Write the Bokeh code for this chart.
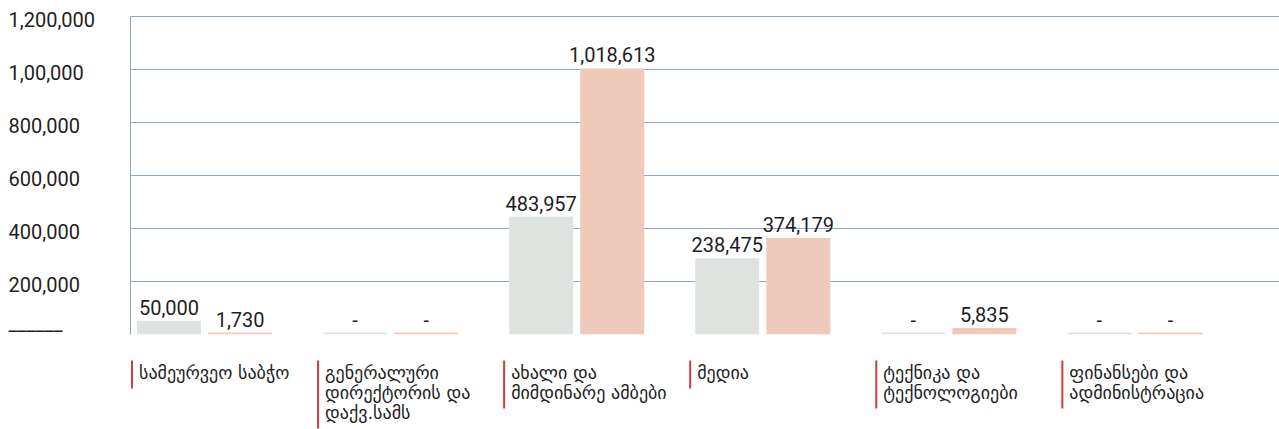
from bokeh.plotting import figure
from bokeh.layouts import column, row
from bokeh.models import Range1d, FixedTicker, ColumnDataSource
from bokeh.transform import dodge
from bokeh.core.properties import value
from bokeh.embed import file_html
from bokeh.resources import INLINE

# ---- data ----
categories = [
    "სამეურვეო საბჭო",
    "გენერალური\nდირექტორის და\nდაქვ.სამს",
    "ახალი და\nმიმდინარე ამბები",
    "მედია",
    "ტექნიკა და\nტექნოლოგიები",
    "ფინანსები და\nადმინისტრაცია",
]
series_a_labels = ["50,000", "-", "483,957", "238,475", "-", "-"]
series_b_labels = ["1,730", "-", "1,018,613", "374,179", "5,835", "-"]
# bar heights as drawn in the picture
series_a_bars = [52000, 7500, 445000, 288000, 7500, 7500]
series_b_bars = [7500, 7500, 1004000, 364000, 25000, 7500]
tick_values = [0, 200000, 400000, 600000, 800000, 1000000, 1200000]
tick_labels = ["______", "200,000", "400,000", "600,000", "800,000", "1,00,000", "1,200,000"]

GRID = "#8fa5d5"
GREY = "#dfe3e0"
PEACH = "#efc9b9"
RED = "#d23a41"
TXT = "#1e1e1e"
NUM_FONT = "Roboto"
GEO_FONT = "DejaVu Sans"

# ---- layout constants ----
W, H_MAIN, H_CAT = 1279, 336, 93
LEFT = 130
BOT_B = 2
FRAME_H = H_MAIN - BOT_B          # frame spans 0..334
Y_MAX = tick_values[-1]
PX_TOP = 16                       # pixels above the top gridline
k = Y_MAX / (FRAME_H - PX_TOP)    # value per pixel
y_range = Range1d(0, Y_MAX + PX_TOP * k)

idx = list(range(len(categories)))
src = ColumnDataSource(dict(
    idx=idx,
    a_bar=series_a_bars, b_bar=series_b_bars,
    a_label=series_a_labels, b_label=series_b_labels,
))

AXW = 10
p = figure(width=W - LEFT + AXW, height=H_MAIN,
           x_range=Range1d(-0.398, 5.777), y_range=y_range,
           output_backend="svg", toolbar_location=None,
           x_axis_location=None,
           min_border_left=AXW, min_border_right=0,
           min_border_top=0, min_border_bottom=BOT_B)
p.outline_line_color = None
p.xgrid.visible = False
p.ygrid.ticker = FixedTicker(ticks=tick_values)
p.ygrid.grid_line_color = GRID
p.ygrid.grid_line_width = 1
p.yaxis.ticker = FixedTicker(ticks=[])
p.yaxis.bounds = (0, Y_MAX)
p.yaxis.axis_line_color = GRID
p.yaxis.major_tick_out = 0
p.yaxis.major_tick_in = 0
p.yaxis.minor_tick_out = 0
p.yaxis.minor_tick_in = 0
p.yaxis.major_label_standoff = 0

p.vbar(x=dodge("idx", -0.191, range=p.x_range), top="a_bar", width=0.344,
       source=src, fill_color=GREY, line_color=None)
p.vbar(x=dodge("idx", 0.191, range=p.x_range), top="b_bar", width=0.344,
       source=src, fill_color=PEACH, line_color=None)

p.text(x=dodge("idx", -0.191, range=p.x_range), y="a_bar", text="a_label", source=src,
       text_align="center", text_baseline="bottom", y_offset=-6,
       text_font=value(NUM_FONT), text_font_size="20px", text_color=TXT)
p.text(x=dodge("idx", 0.191, range=p.x_range), y="b_bar", text="b_label", source=src,
       text_align="center", text_baseline="bottom", y_offset=-6,
       text_font=value(NUM_FONT), text_font_size="20px", text_color=TXT)

# ---- y tick labels (left-aligned) in a narrow figure sharing the value scale ----
pl = figure(width=LEFT - AXW, height=H_MAIN,
            x_range=Range1d(0, LEFT - AXW), y_range=y_range,
            output_backend="svg", toolbar_location=None,
            x_axis_location=None, y_axis_location=None,
            min_border_left=0, min_border_right=0,
            min_border_top=0, min_border_bottom=BOT_B)
pl.outline_line_color = None
pl.grid.visible = False
tick_src = ColumnDataSource(dict(
    x=[8] * (len(tick_values) - 1), y=tick_values[1:], text=tick_labels[1:]))
pl.text(x="x", y="y", text="text", source=tick_src,
        text_align="left", text_baseline="middle", y_offset=3,
        text_font=value(NUM_FONT), text_font_size="20px", text_color=TXT)
zero_src = ColumnDataSource(dict(x=[8], y=tick_values[:1], text=tick_labels[:1]))
pl.text(x="x", y="y", text="text", source=zero_src,
        text_align="left", text_baseline="bottom", y_offset=0,
        text_font=value(NUM_FONT), text_font_size="20px", text_color=TXT)

# ---- category labels strip ----
p2 = figure(width=W, height=H_CAT, x_range=p.x_range, y_range=Range1d(-H_CAT, 0),
            output_backend="svg", toolbar_location=None,
            x_axis_location=None, y_axis_location=None,
            min_border_left=LEFT, min_border_right=0,
            min_border_top=0, min_border_bottom=0)
p2.outline_line_color = None
p2.grid.visible = False

nlines = [c.count("\n") + 1 for c in categories]
cat_src = ColumnDataSource(dict(
    x=[i - 0.39 for i in idx],
    y0=[-24 for _ in idx],
    y1=[-(24 + 20 * n + 8) for n in nlines],
    ty=[-25 for _ in idx],
    text=categories,
))
p2.segment(x0="x", y0="y0", x1="x", y1="y1", source=cat_src,
           line_color=RED, line_width=2)
p2.text(x="x", y="ty", text="text", source=cat_src, x_offset=7,
        text_align="left", text_baseline="top", text_line_height=0.96,
        text_font=value(GEO_FONT), text_font_size="18px", text_color=TXT)

layout = column(row(pl, p, spacing=0), p2, spacing=0)
open("out.html", "w").write(file_html(layout, INLINE))
